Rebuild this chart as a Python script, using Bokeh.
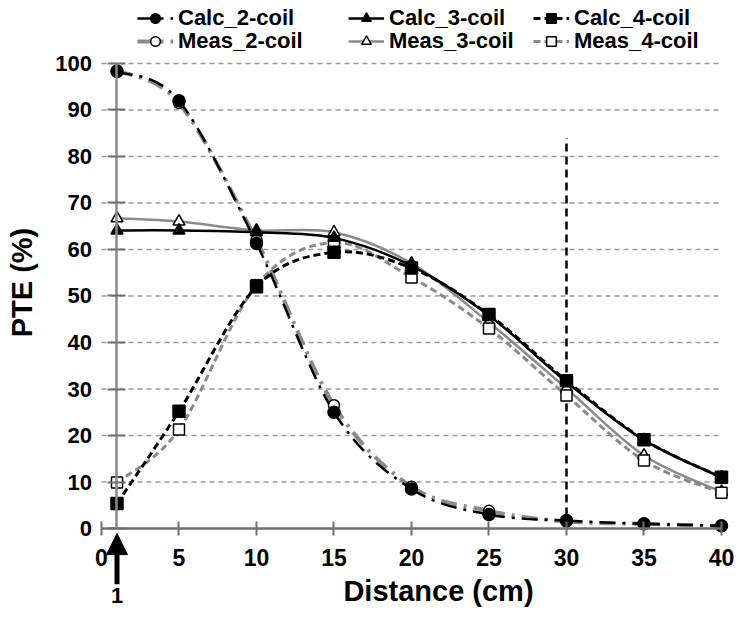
import numpy as np
from math import pi
from bokeh.plotting import figure
from bokeh.models import (Legend, LegendItem, Arrow, NormalHead, Label,
                          FixedTicker, ColumnDataSource, Range1d, LinearAxis)
from bokeh.embed import file_html
from bokeh.resources import INLINE

# ---------------- data ----------------
distance = [1, 5, 10, 15, 20, 25, 30, 35, 40]
calc_2coil = [98.3, 92.0, 61.3, 25.0, 8.5, 3.0, 1.7, 1.0, 0.6]
meas_2coil = [98.5, 91.5, 62.0, 26.5, 9.0, 3.8, 1.5, 1.0, 0.5]
calc_3coil = [64.1, 64.1, 63.7, 62.5, 56.5, 45.8, 31.5, 19.0, 11.0]
meas_3coil = [66.7, 66.0, 64.1, 63.7, 57.0, 44.3, 30.1, 15.7, 7.9]
calc_4coil = [5.4, 25.2, 52.0, 59.4, 56.0, 46.0, 31.8, 19.1, 11.0]
meas_4coil = [9.9, 21.3, 52.3, 61.5, 54.0, 43.0, 28.6, 14.6, 7.7]

series_names = ["Calc_2-coil", "Calc_3-coil", "Calc_4-coil",
                "Meas_2-coil", "Meas_3-coil", "Meas_4-coil"]
x_ticks = [0, 5, 10, 15, 20, 25, 30, 35, 40]
y_ticks = [0, 10, 20, 30, 40, 50, 60, 70, 80, 90, 100]
y_axis_cross = 1
ref_line_x = [30]
ref_line_top = [84]
arrow_x = 1
arrow_text = "1"

FONT = "Liberation Sans"
GREY = "#8a8a8a"
AXIS_GREY = "#707070"


def bezier_source(xs, ys):
    x = np.asarray(xs, float)
    y = np.asarray(ys, float)
    n = len(x)
    xp = np.concatenate([[x[0]], x, [x[-1]]])
    yp = np.concatenate([[y[0]], y, [y[-1]]])
    cx0 = x[:-1] + (xp[2:n + 1] - xp[0:n - 1]) / 6.0
    cy0 = y[:-1] + (yp[2:n + 1] - yp[0:n - 1]) / 6.0
    cx1 = x[1:] - (xp[3:n + 2] - xp[1:n]) / 6.0
    cy1 = y[1:] - (yp[3:n + 2] - yp[1:n]) / 6.0
    return ColumnDataSource(dict(x0=x[:-1], y0=y[:-1], x1=x[1:], y1=y[1:],
                                 cx0=cx0, cy0=cy0, cx1=cx1, cy1=cy1))


# frame fills the whole canvas; axes are drawn at fixed data locations
p = figure(width=734, height=609, output_backend="svg", toolbar_location=None,
           x_range=Range1d(-6.516, 40.839), y_range=Range1d(-17.419, 113.548),
           x_axis_type=None, y_axis_type=None,
           min_border_left=0, min_border_right=0, min_border_top=0,
           min_border_bottom=0)
p.outline_line_color = None
p.background_fill_color = "white"
p.xgrid.visible = False
p.ygrid.visible = False

# horizontal dashed gridlines between the first and last distance ticks
grid_y = y_ticks[1:]
p.segment(x0=[x_ticks[0]] * len(grid_y), y0=grid_y,
          x1=[x_ticks[-1]] * len(grid_y), y1=grid_y,
          line_color="#9a9a9a", line_dash="5 4", line_width=1.5)

# axes
xax = LinearAxis(fixed_location=0, bounds=(x_ticks[0], x_ticks[-1]),
                 ticker=FixedTicker(ticks=x_ticks))
yax = LinearAxis(fixed_location=y_axis_cross, bounds=(y_ticks[0], y_ticks[-1]),
                 ticker=FixedTicker(ticks=y_ticks))
for ax in (xax, yax):
    ax.axis_line_color = AXIS_GREY
    ax.axis_line_width = 2.5
    ax.minor_tick_line_color = None
    ax.major_tick_line_color = AXIS_GREY
    ax.major_tick_line_width = 2
    ax.major_label_text_font = FONT
    ax.major_label_text_font_style = "bold"
    ax.major_label_text_color = "black"
xax.major_tick_in = 7
xax.major_tick_out = 7
xax.major_label_standoff = 13
xax.major_label_text_font_size = "23px"
yax.axis_line_color = GREY
yax.major_tick_in = 9
yax.major_tick_out = 9
yax.major_label_standoff = 16
yax.major_label_text_font_size = "22px"
p.add_layout(xax, "below")
p.add_layout(yax, "left")

# reference vertical dashed line
p.segment(x0=ref_line_x, y0=[0], x1=ref_line_x, y1=ref_line_top,
          line_color="black", line_width=2.5, line_dash="8 5")

styles = {
    "Meas_2-coil": dict(data=meas_2coil, color=GREY, width=4, dash="16 7 3 7",
                        marker="circle", fill="white", size=11),
    "Meas_3-coil": dict(data=meas_3coil, color=GREY, width=2.5, dash="solid",
                        marker="triangle", fill="white", size=12),
    "Meas_4-coil": dict(data=meas_4coil, color=GREY, width=3, dash="7 4",
                        marker="square", fill="white", size=11),
    "Calc_2-coil": dict(data=calc_2coil, color="black", width=2.5, dash="16 7 3 7",
                        marker="circle", fill="black", size=12),
    "Calc_3-coil": dict(data=calc_3coil, color="black", width=2.5, dash="solid",
                        marker="triangle", fill="black", size=12),
    "Calc_4-coil": dict(data=calc_4coil, color="black", width=3, dash="7 4",
                        marker="square", fill="black", size=12),
}

renderers = {}
for name, st in styles.items():
    src = bezier_source(distance, st["data"])
    bz = p.bezier(x0="x0", y0="y0", x1="x1", y1="y1", cx0="cx0", cy0="cy0",
                  cx1="cx1", cy1="cy1", source=src, line_color=st["color"],
                  line_width=st["width"], line_dash=st["dash"])
    renderers[name] = [bz]
for name, st in styles.items():
    sc = p.scatter(distance, st["data"], marker=st["marker"], size=st["size"],
                   fill_color=st["fill"], line_color="black", line_width=1.5)
    renderers[name].append(sc)

# legends: two rows of three (screen offsets from the canvas bottom-left)
legend_cols = [137, 348, 533]
legend_rows = [578, 555]
for i, name in enumerate(series_names):
    row, col = divmod(i, 3)
    leg = Legend(items=[LegendItem(label=name, renderers=renderers[name])],
                 location=(legend_cols[col], legend_rows[row]),
                 padding=0, margin=0, spacing=0,
                 border_line_alpha=0, background_fill_alpha=0,
                 glyph_width=36, glyph_height=24, label_height=24,
                 label_standoff=5,
                 label_text_font=FONT, label_text_font_style="bold",
                 label_text_font_size="22px", label_text_color="black")
    p.add_layout(leg)

# axis titles
p.add_layout(Label(x=-5.1, y=52.9, text="PTE (%)", angle=pi / 2,
                   text_align="center", text_baseline="middle",
                   text_font=FONT, text_font_style="bold",
                   text_font_size="29px", text_color="black"))
p.add_layout(Label(x=21.74, y=-9.9, text="Distance (cm)",
                   text_align="center", text_baseline="top",
                   text_font=FONT, text_font_style="bold",
                   text_font_size="29px", text_color="black"))

# arrow pointing at distance 1
p.add_layout(Arrow(end=NormalHead(size=21, fill_color="black", line_color="black"),
                   x_start=arrow_x, y_start=-12.0, x_end=arrow_x, y_end=-1.1,
                   line_width=5, line_color="black"))
p.add_layout(Label(x=arrow_x, y=-12.9, text=arrow_text, text_align="center",
                   text_baseline="top", text_font=FONT, text_font_style="bold",
                   text_font_size="22px", text_color="black"))

open("out.html", "w").write(file_html(p, INLINE))
